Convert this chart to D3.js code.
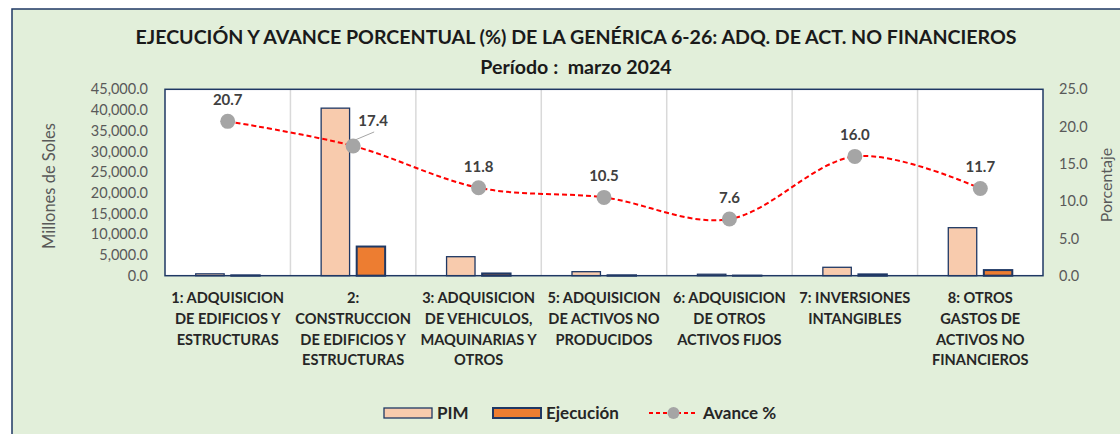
<!DOCTYPE html>
<html>
<head>
<meta charset="utf-8">
<script src="https://cdn.jsdelivr.net/npm/d3@7/dist/d3.min.js"></script>
<style>
  html, body { margin: 0; padding: 0; background: #fff; }
  svg { display: block; font-family: Lato, "Open Sans", sans-serif; }
  .pre { white-space: pre; }
</style>
</head>
<body>
<svg id="chart" width="1120" height="434"></svg>
<script>
// data
const categories = [
  "1: ADQUISICION|DE EDIFICIOS Y|ESTRUCTURAS",
  "2:|CONSTRUCCION|DE EDIFICIOS Y|ESTRUCTURAS",
  "3: ADQUISICION|DE VEHICULOS,|MAQUINARIAS Y|OTROS",
  "5: ADQUISICION|DE ACTIVOS NO|PRODUCIDOS",
  "6: ADQUISICION|DE OTROS|ACTIVOS FIJOS",
  "7: INVERSIONES|INTANGIBLES",
  "8: OTROS|GASTOS DE|ACTIVOS NO|FINANCIEROS"
];
const pim = [450, 40450, 4590, 970, 350, 2030, 11590];
const ejecucion = [93, 7040, 541, 102, 27, 325, 1356];
const avance = [20.7, 17.4, 11.8, 10.5, 7.6, 16.0, 11.7];
const leftTicks = [0, 5000, 10000, 15000, 20000, 25000, 30000, 35000, 40000, 45000];
const rightTicks = [0, 5, 10, 15, 20, 25];

const svg = d3.select("#chart");
const W = 1120, H = 434;
const plot = {left: 165, right: 1043, top: 89.3, bottom: 275.7};

// chart area background + frame (frame runs off right / bottom edge)
svg.append("rect").attr("x", 12).attr("y", 9).attr("width", W).attr("height", H)
  .attr("fill", "#E2EFDA").attr("stroke", "#1F3864").attr("stroke-width", 1.5);

// titles
svg.append("text").attr("x", 576).attr("y", 44).attr("text-anchor", "middle")
  .attr("font-size", 19.6).attr("font-weight", "bold").attr("fill", "#1a1a1a")
  .text("EJECUCIÓN Y AVANCE PORCENTUAL (%) DE LA GENÉRICA 6-26: ADQ. DE ACT. NO FINANCIEROS");
svg.append("text").attr("class", "pre").attr("x", 576).attr("y", 74).attr("text-anchor", "middle")
  .attr("font-size", 19.6).attr("font-weight", "bold").attr("fill", "#1a1a1a")
  .text("Período :  marzo 2024");

// scales
let x = d3.scaleBand().domain(categories).range([plot.left, plot.right]).padding(0);
let xs = d3.scaleBand().domain(["PIM", "Ejecución"])
  .range([x.bandwidth() / 2 - 32, x.bandwidth() / 2 + 32]).paddingInner(0.2);
let y = d3.scaleLinear().domain([0, 45000]).range([plot.bottom, plot.top]);
let y2 = d3.scaleLinear().domain([0, 25]).range([plot.bottom, plot.top]);

// plot area
svg.append("rect").attr("x", plot.left).attr("y", plot.top)
  .attr("width", plot.right - plot.left).attr("height", plot.bottom - plot.top)
  .attr("fill", "#fff");

// vertical category gridlines
svg.append("g").selectAll("line").data(categories.slice(1)).enter().append("line")
  .attr("x1", d => x(d)).attr("x2", d => x(d))
  .attr("y1", plot.top).attr("y2", plot.bottom)
  .attr("stroke", "#D9D9D9").attr("stroke-width", 1.5);

// bars
const rows = categories.map((c, i) => ({cat: c, PIM: pim[i], "Ejecución": ejecucion[i]}));
const barStyle = {
  "PIM": {fill: "#F8CBAD", stroke: "#1F3864", sw: 1.3},
  "Ejecución": {fill: "#ED7D31", stroke: "#1F3864", sw: 2}
};
svg.append("g").selectAll("g").data(rows).enter().append("g")
  .attr("transform", d => "translate(" + x(d.cat) + ",0)")
  .selectAll("rect").data(d => xs.domain().map(k => ({key: k, value: d[k]})))
  .enter().append("rect")
  .attr("x", d => xs(d.key)).attr("width", xs.bandwidth())
  .attr("y", d => y(d.value)).attr("height", d => plot.bottom - y(d.value))
  .attr("fill", d => barStyle[d.key].fill)
  .attr("stroke", d => barStyle[d.key].stroke)
  .attr("stroke-width", d => barStyle[d.key].sw);

// plot frame
svg.append("rect").attr("x", plot.left).attr("y", plot.top)
  .attr("width", plot.right - plot.left).attr("height", plot.bottom - plot.top)
  .attr("fill", "none").attr("stroke", "#1F3864").attr("stroke-width", 1.5);

// left axis
const fmtL = d3.format(",.1f");
let yAxis = d3.axisLeft(y).tickValues(leftTicks).tickFormat(fmtL).tickSize(0).tickPadding(17);
let gy = svg.append("g").attr("transform", "translate(" + plot.left + ",0)").call(yAxis);
gy.select(".domain").remove();
gy.selectAll("text").attr("font-size", 14.5).attr("fill", "#595959")
  .attr("font-family", "Lato, 'Open Sans', sans-serif");

// right axis
let y2Axis = d3.axisRight(y2).tickValues(rightTicks).tickFormat(d3.format(".1f")).tickSize(0).tickPadding(16);
let gy2 = svg.append("g").attr("transform", "translate(" + plot.right + ",0)").call(y2Axis);
gy2.select(".domain").remove();
gy2.selectAll("text").attr("font-size", 14.5).attr("fill", "#595959")
  .attr("font-family", "Lato, 'Open Sans', sans-serif");

// axis titles
svg.append("text").attr("transform", "translate(55,186) rotate(-90)")
  .attr("text-anchor", "middle").attr("font-size", 16.5).attr("fill", "#595959")
  .text("Millones de Soles");
svg.append("text").attr("transform", "translate(1112,185) rotate(-90)")
  .attr("text-anchor", "middle").attr("font-size", 16).attr("fill", "#595959")
  .text("Porcentaje");

// category labels
let xl = svg.append("g").selectAll("text").data(categories).enter().append("text")
  .attr("text-anchor", "middle").attr("font-size", 14.6).attr("font-weight", "bold")
  .attr("fill", "#262626");
xl.each(function(d) {
  const t = d3.select(this);
  d.split("|").forEach((line, k) => {
    t.append("tspan").attr("x", x(d) + x.bandwidth() / 2).attr("y", 303 + k * 20.8).text(line);
  });
});

// avance line
const pts = categories.map((c, i) => ({cat: c, v: avance[i]}));
let line = d3.line()
  .x(d => x(d.cat) + x.bandwidth() / 2)
  .y(d => y2(d.v))
  .curve(d3.curveCatmullRom.alpha(0));
svg.append("path").datum(pts).attr("d", line)
  .attr("fill", "none").attr("stroke", "#FF0000").attr("stroke-width", 2)
  .attr("stroke-dasharray", "5,3");
svg.append("g").selectAll("circle").data(pts).enter().append("circle")
  .attr("cx", d => x(d.cat) + x.bandwidth() / 2).attr("cy", d => y2(d.v))
  .attr("r", 7.5).attr("fill", "#A5A5A5");

// data labels (second one pushed aside with a leader line)
const labelShift = [[0, -16], [20, -20], [0, -16], [0, -16], [0, -16], [0, -16], [0, -16]];
svg.append("line")
  .attr("x1", x(categories[1]) + x.bandwidth() / 2 + 2).attr("y1", y2(avance[1]) - 6)
  .attr("x2", x(categories[1]) + x.bandwidth() / 2 + 21).attr("y2", y2(avance[1]) - 14)
  .attr("stroke", "#A6A6A6").attr("stroke-width", 1);
svg.append("g").selectAll("text").data(pts).enter().append("text")
  .attr("x", (d, i) => x(d.cat) + x.bandwidth() / 2 + labelShift[i][0])
  .attr("y", (d, i) => y2(d.v) + labelShift[i][1])
  .attr("text-anchor", "middle").attr("font-size", 15).attr("font-weight", "bold")
  .attr("fill", "#404040")
  .text(d => d3.format(".1f")(d.v));

// legend
const lg = svg.append("g").attr("font-size", 17).attr("font-weight", "bold").attr("fill", "#262626");
lg.append("rect").attr("x", 384).attr("y", 408).attr("width", 48).attr("height", 10)
  .attr("fill", barStyle["PIM"].fill).attr("stroke", "#1F3864").attr("stroke-width", 1.3);
lg.append("text").attr("x", 437).attr("y", 419).text("PIM");
lg.append("rect").attr("x", 493).attr("y", 408).attr("width", 48).attr("height", 10)
  .attr("fill", barStyle["Ejecución"].fill).attr("stroke", "#1F3864").attr("stroke-width", 2);
lg.append("text").attr("x", 546).attr("y", 419).text("Ejecución");
lg.append("line").attr("x1", 649).attr("x2", 698).attr("y1", 413).attr("y2", 413)
  .attr("stroke", "#FF0000").attr("stroke-width", 2).attr("stroke-dasharray", "4,3");
lg.append("circle").attr("cx", 673.5).attr("cy", 413).attr("r", 6).attr("fill", "#A5A5A5");
lg.append("text").attr("x", 703).attr("y", 419).text("Avance %");
</script>
</body>
</html>
